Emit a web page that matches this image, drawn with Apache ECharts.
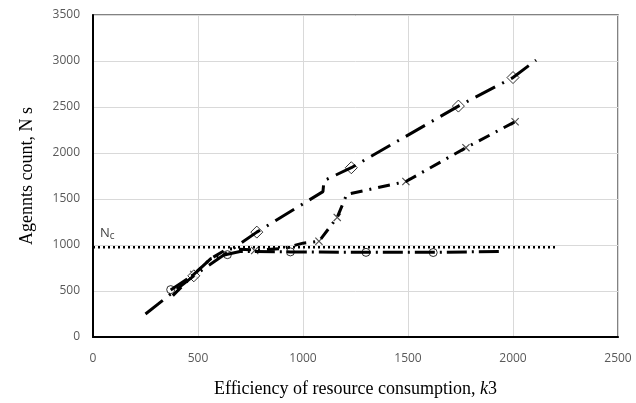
<!DOCTYPE html>
<html><head><meta charset="utf-8">
<script src="https://cdn.jsdelivr.net/npm/echarts@6/dist/echarts.min.js"></script>
<style>html,body{margin:0;padding:0;background:#fff}#c{width:636px;height:403px}</style>
</head><body><div id="c"></div>
<script>
// Series A (diamond markers, long dash-dot)
const diamondLine = [[250,250],[480,665],[780,1140],[1095,1580],[1100,1700],[1230,1840],[1740,2510],[2000,2820],[2110,3010]];
const diamondMarks = [[480,665],[780,1140],[1230,1840],[1740,2510],[2000,2820]];
// Series B (x markers, dash-dot)
const crossLine = [[380,450],[480,680],[560,850],[640,960],[770,945],[900,960],[1000,1020],[1076,1040],[1163,1300],[1208,1550],[1490,1690],[1776,2058],[2010,2340]];
const crossMarks = [[480,680],[770,940],[1076,1040],[1163,1300],[1490,1690],[1776,2058],[2010,2340]];
// Series C (circle markers, long dash)
const circleLine = [[370,510],[480,680],[560,850],[640,900],[700,930],[940,925],[1300,920],[1620,920],[1940,930]];
const circleMarks = [[370,515],[640,895],[940,925],[1300,920],[1620,918]];
// Nc level
const ncLine = [[0,975],[2200,975]];
const xMin = 0, xMax = 2500, xStep = 500;
const yMin = 0, yMax = 3500, yStep = 500;

const crossPath = 'path://M0,1L1,0L5,4L9,0L10,1L6,5L10,9L9,10L5,6L1,10L0,9L4,5Z';

const chart = echarts.init(document.getElementById('c'));
chart.setOption({
  animation: false,
  backgroundColor: '#fff',
  grid: {left: 93, right: 18, top: 15, bottom: 65, show: true, borderColor: '#595959', borderWidth: 1.5},
  xAxis: {
    type: 'value', min: xMin, max: xMax, interval: xStep,
    axisLine: {show: true, lineStyle: {color: '#000', width: 2}},
    axisTick: {show: false},
    splitLine: {lineStyle: {color: '#d9d9d9', width: 1}},
    axisLabel: {color: '#595959', fontFamily: 'Open Sans, sans-serif', fontSize: 12, margin: 16, formatter: v => String(v)},
    name: '{a|Efficiency of resource consumption, }{b|k}{a|3}',
    nameLocation: 'middle', nameGap: 43,
    nameTextStyle: {rich: {
      a: {fontFamily: 'Liberation Serif', fontSize: 18, color: '#000'},
      b: {fontFamily: 'Liberation Serif', fontSize: 18, fontStyle: 'italic', color: '#000'}
    }}
  },
  yAxis: {
    type: 'value', min: yMin, max: yMax, interval: yStep,
    axisLine: {show: true, lineStyle: {color: '#000', width: 2}},
    axisTick: {show: false},
    splitLine: {lineStyle: {color: '#d9d9d9', width: 1}},
    axisLabel: {color: '#595959', fontFamily: 'Open Sans, sans-serif', fontSize: 12, margin: 13, formatter: v => String(v)},
    name: 'Agennts count, N s',
    nameLocation: 'middle', nameGap: 57,
    nameTextStyle: {fontFamily: 'Liberation Serif', fontSize: 18, color: '#000'}
  },
  series: [
    {type: 'line', data: ncLine, symbol: 'none', silent: true,
     lineStyle: {color: '#000', width: 2.5, type: [2, 3]},
     markPoint: {
       symbol: 'circle', symbolSize: 0,
       data: [{coord: [0, 975]}],
       label: {show: true, position: 'right', offset: [2, -14],
         formatter: '{n|N}{s|c}',
         rich: {n: {fontFamily: 'Open Sans, sans-serif', fontSize: 13, color: '#404040'},
                s: {fontFamily: 'Open Sans, sans-serif', fontSize: 10, color: '#404040', verticalAlign: 'bottom', padding: [5,0,0,0]}}}
     }},
    {type: 'line', data: circleLine, symbol: 'none',
     lineStyle: {color: '#000', width: 3, type: [20, 5, 2, 5]}},
    {type: 'line', data: crossLine, symbol: 'none',
     lineStyle: {color: '#000', width: 3, type: [12, 7, 2, 7]}},
    {type: 'line', data: diamondLine, symbol: 'none',
     lineStyle: {color: '#000', width: 3, type: [22, 8, 2, 8]}},
    {type: 'scatter', data: circleMarks, symbol: 'circle', symbolSize: 8,
     itemStyle: {color: '#fff', borderColor: '#000', borderWidth: 1}},
    {type: 'scatter', data: crossMarks, symbol: crossPath, symbolSize: 8,
     itemStyle: {color: '#222'}},
    {type: 'scatter', data: diamondMarks, symbol: 'diamond', symbolSize: [12, 12],
     itemStyle: {color: '#fff', borderColor: '#000', borderWidth: 1}}
  ]
});
</script></body></html>
